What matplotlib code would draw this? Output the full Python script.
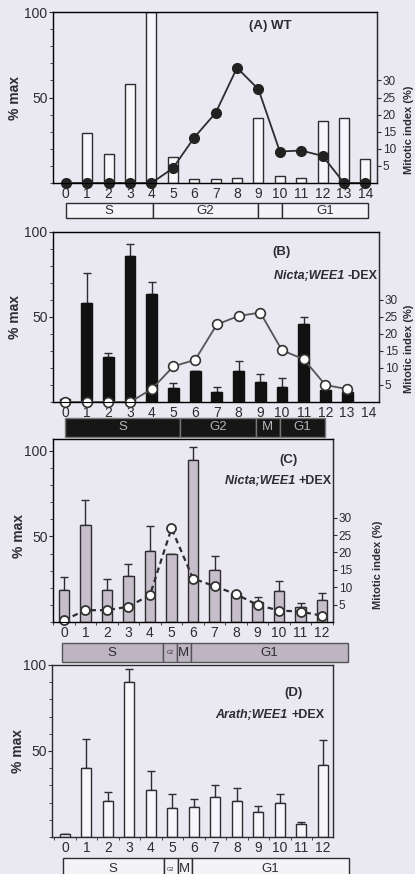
import matplotlib
matplotlib.use("Agg")
import matplotlib.pyplot as plt
from matplotlib.patches import Rectangle
from matplotlib.ticker import MultipleLocator, FixedLocator
from matplotlib.transforms import blended_transform_factory

plt.rcParams["font.family"] = ["Liberation Sans", "DejaVu Sans"]

W, H = 415, 874
BG = "#eae8f0"
INK = "#2e2c30"

# (A) WT -- relative level (% max) and mitotic index (%)
a_pct = [0, 29, 17, 58, 100, 15, 2.5, 2.5, 3, 38, 4, 3, 36, 38, 14]
a_mi = [0, 0, 0, 0, 0, 4.3, 13.3, 20.5, 33.7, 27.4, 9.2, 9.5, 7.9, 0, 0]
a_phase_edges = [0, 4.05, 9, 10.1, 14.1]
a_phase_labels = ["S", "G2", "", "G1"]

# (B) Nicta;WEE1 -DEX
b_pct = [2, 58, 26.5, 86, 63.5, 8, 18, 6, 18, 12, 9, 46, 7, 6]
b_err = [0, 18, 2.5, 7, 7, 3, 0.5, 3, 6, 4.5, 5, 4, 1.5, 0.5]
b_mi = [0, 0, 0, 0, 3.8, 10.5, 12.4, 22.8, 25.3, 26.3, 15.2, 12.6, 5, 3.8]
b_phase_edges = [0, 5.3, 8.8, 9.9, 12]
b_phase_labels = ["S", "G2", "M", "G1"]

# (C) Nicta;WEE1 +DEX
c_pct = [18.6, 57, 18.6, 27, 41.6, 40, 94.7, 30.4, 17, 11.8, 18, 8.8, 13]
c_err = [8, 14.6, 6.4, 7, 14.4, 0, 7.8, 8.2, 0, 2.9, 6, 2.6, 4]
c_mi = [0.5, 3.4, 3.4, 4.4, 7.8, 26.9, 12.5, 10.3, 8, 4.9, 3.3, 3, 1.8]

# (D) Arath;WEE1 +DEX
d_pct = [1.5, 40.4, 20.8, 90, 27.6, 17, 17.5, 23, 21, 14.6, 19.8, 7.8, 41.7]
d_err = [0, 16.3, 5.2, 7.5, 10.8, 8, 4.5, 7, 7.5, 3.4, 5.2, 1.2, 14.6]

cd_phase_edges = [-0.1, 4.6, 5.25, 5.9, 13.2]
cd_phase_labels = ["S", "G2", "M", "G1"]


def px_axes(fig, left, top, right, bottom):
    return fig.add_axes([left / W, 1 - bottom / H, (right - left) / W, (bottom - top) / H])


def style_left(ax, ytop):
    ax.set_facecolor("none")
    ax.set_ylim(0, ytop)
    ax.yaxis.set_major_locator(FixedLocator([50, 100]))
    ax.yaxis.set_minor_locator(MultipleLocator(10))
    ax.tick_params(axis="y", which="major", length=3, width=0.8, labelsize=10,
                   colors=INK, pad=1)
    ax.tick_params(axis="y", which="minor", length=2, width=0.6, colors=INK)
    ax.tick_params(axis="x", which="major", length=0, labelsize=10, colors=INK, pad=3)
    ax.tick_params(axis="x", which="minor", length=2, width=0.6, colors=INK)
    for s in ax.spines.values():
        s.set_color(INK)
        s.set_linewidth(1.0)
    ax.set_ylabel("% max", fontsize=10, fontweight="bold", color=INK)
    ax.yaxis.set_label_coords(-0.095, 50 / ytop)


def style_right(ax, ytop, label_x):
    ax2 = ax.twinx()
    ax2.set_ylim(0, ytop)
    ax2.set_yticks([5, 10, 15, 20, 25, 30])
    ax2.tick_params(axis="y", length=3, width=0.8, labelsize=8.5, colors=INK, pad=1)
    ax2.spines["right"].set_color(INK)
    ax2.set_ylabel("Mitotic index (%)", fontsize=8, fontweight="bold", color=INK)
    ax2.yaxis.set_label_coords(label_x, 0.31)
    return ax2


def upper_err(ax, x, y, err):
    ax.errorbar(x, y, yerr=[[0] * len(err), err], fmt="none", ecolor=INK,
                elinewidth=1.0, capsize=3, capthick=1.0, zorder=1)


def phase_strip(fig, ax, edges, labels, top, bottom, face, edge, text_color, small=None):
    tr = blended_transform_factory(ax.transData, fig.transFigure)
    y0 = 1 - bottom / H
    h = (bottom - top) / H
    for i, lab in enumerate(labels):
        x0, x1 = edges[i], edges[i + 1]
        fig.add_artist(Rectangle((x0, y0), x1 - x0, h, transform=tr, facecolor=face,
                                 edgecolor=edge, linewidth=1.0, clip_on=False))
        fs = 4 if small == i else 9.5
        fig.text((x0 + x1) / 2, y0 + h / 2, lab, transform=tr, ha="center",
                 va="center", fontsize=fs, color=text_color)


def panel_tag(ax, x, y, tag):
    ax.text(x, y, tag, transform=ax.transAxes, ha="center", va="center",
            fontsize=9.5, fontweight="bold", color=INK)


def gene_label(ax, x, y, gene, cond):
    t = ax.text(x, y, cond, transform=ax.transAxes, ha="right", va="center",
                fontsize=9, fontweight="bold", color=INK)
    ax.annotate(gene, xy=(0, 0), xycoords=t, ha="right", va="bottom",
                fontsize=9, fontweight="bold", fontstyle="italic", color=INK)


def main() -> None:
    fig = plt.figure(figsize=(W / 100, H / 100), dpi=100)
    fig.patch.set_facecolor(BG)

    # ---- (A) WT
    ax = px_axes(fig, 53, 12, 377, 183)
    xa = list(range(len(a_pct)))
    style_left(ax, 100)
    ax.bar(xa, a_pct, width=0.47, facecolor="#f7f6fa", edgecolor=INK, linewidth=1.0)
    ax.set_xlim(-0.6, 14.54)
    ax.set_xticks(xa)
    ax2 = style_right(ax, 50, 1.082)
    ax2.plot(xa, a_mi, color=INK, lw=1.3, marker="o", ms=7, mfc="#222", mec="#222",
             clip_on=False)
    panel_tag(ax, 0.67, 0.92, "(A) WT")
    phase_strip(fig, ax, a_phase_edges, a_phase_labels, 203, 218, "#f4f3f7", INK, INK)

    # ---- (B) Nicta;WEE1 -DEX
    ax = px_axes(fig, 53, 232, 379, 402)
    xb = list(range(len(b_pct)))
    style_left(ax, 100)
    ax.bar(xb, b_pct, width=0.5, facecolor="#111", edgecolor="#111", linewidth=1.0, zorder=2)
    upper_err(ax, xb, b_pct, b_err)
    ax.set_xlim(-0.55, 14.47)
    ax.set_xticks(range(15))
    ax2 = style_right(ax, 50, 1.076)
    ax2.plot(xb, b_mi, color="#555", lw=1.3, marker="o", ms=7, mfc="white", mec="#333",
             mew=1.2, clip_on=False)
    panel_tag(ax, 0.7, 0.88, "(B)")
    gene_label(ax, 0.995, 0.74, "Nicta;WEE1 ", "-DEX")
    phase_strip(fig, ax, b_phase_edges, b_phase_labels, 418, 437, "#161616", "#777", "#b5b3b8")

    # ---- (C) Nicta;WEE1 +DEX
    ax = px_axes(fig, 53, 439, 333, 622)
    xc = list(range(len(c_pct)))
    style_left(ax, 107)
    ax.bar(xc, c_pct, width=0.47, facecolor="#c6bfcb", edgecolor=INK, linewidth=1.0, zorder=2)
    upper_err(ax, xc, c_pct, c_err)
    ax.set_xlim(-0.51, 12.51)
    ax.set_xticks(xc)
    ax.xaxis.set_minor_locator(FixedLocator([i + 0.5 for i in range(-1, 13)]))
    ax2 = style_right(ax, 52.6, 1.143)
    ax2.plot(xc, c_mi, color=INK, lw=1.6, ls=(0, (2.5, 1.8)), marker="o", ms=6.5,
             mfc="white", mec="#333", mew=1.3, clip_on=False)
    panel_tag(ax, 0.84, 0.885, "(C)")
    gene_label(ax, 0.995, 0.77, "Nicta;WEE1 ", "+DEX")
    phase_strip(fig, ax, cd_phase_edges, cd_phase_labels, 643, 662, "#bdb5c2", "#555", INK,
                small=1)

    # ---- (D) Arath;WEE1 +DEX
    ax = px_axes(fig, 52, 665, 333, 837)
    xd = list(range(len(d_pct)))
    style_left(ax, 100)
    ax.bar(xd, d_pct, width=0.47, facecolor="#f7f6fa", edgecolor=INK, linewidth=1.0, zorder=2)
    upper_err(ax, xd, d_pct, d_err)
    ax.set_xlim(-0.6, 12.47)
    ax.set_xticks(xd)
    ax.xaxis.set_minor_locator(FixedLocator([i + 0.5 for i in range(-1, 13)]))
    panel_tag(ax, 0.86, 0.84, "(D)")
    gene_label(ax, 0.97, 0.71, "Arath;WEE1 ", "+DEX")
    phase_strip(fig, ax, cd_phase_edges, cd_phase_labels, 858, 880, "#f4f3f7", INK, INK,
                small=1)

    fig.savefig("out.png", dpi=100, facecolor=BG)
    plt.close(fig)


if __name__ == "__main__":
    main()
